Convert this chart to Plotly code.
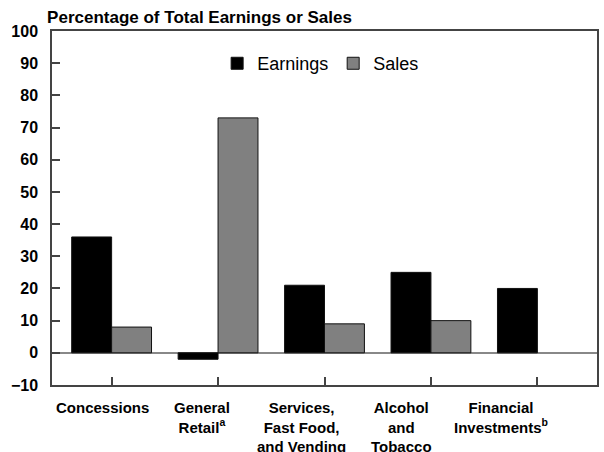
import plotly.graph_objects as go

categories = ["Concessions", "General Retail", "Services, Fast Food, and Vending",
              "Alcohol and Tobacco", "Financial Investments"]
tick_labels = [
    "Concessions",
    "General<br>Retail<sup>a</sup>",
    "Services,<br>Fast Food,<br>and Vending",
    "Alcohol<br>and<br>Tobacco",
    "Financial<br>Investments<sup>b</sup>",
]
earnings = [36, -2, 21, 25, 20]
sales = [8, 73, 9, 10, None]
y_ticks = list(range(-10, 101, 10))

FONT = "Liberation Sans, Arial, sans-serif"
AX = "#444444"

xs = list(range(len(categories)))

fig = go.Figure()
fig.add_trace(go.Bar(x=xs, y=earnings, name="Earnings",
                     marker=dict(color="#000000", line=dict(color="#111111", width=1))))
fig.add_trace(go.Bar(x=xs, y=sales, name="Sales",
                     marker=dict(color="#808080", line=dict(color="#111111", width=1))))

# category labels (placed slightly left of the tick marks, as in the original)
ann = []
for i, t in enumerate(tick_labels):
    ann.append(dict(x=0.092 + i * 0.1828, xref="paper", y=-0.033, yref="paper",
                    xanchor="center", yanchor="top", align="center",
                    text="<b>" + t + "</b>", showarrow=False,
                    font=dict(family=FONT, size=15, color="#000000")))

fig.update_layout(
    width=604, height=452,
    margin=dict(l=52, r=7, t=31, b=67, autoexpand=False),
    paper_bgcolor="white", plot_bgcolor="white",
    barmode="group", bargap=0.25, bargroupgap=0,
    title=dict(text="<b>Percentage of Total Earnings or Sales</b>",
               x=0.078, xanchor="left", y=0.975, yanchor="top",
               font=dict(family=FONT, size=17, color="#000000")),
    legend=dict(orientation="h", x=0.303, xanchor="left", y=0.908, yanchor="middle",
                font=dict(family=FONT, size=18, color="#000000"),
                bgcolor="rgba(0,0,0,0)", itemwidth=30),
    annotations=ann,
    showlegend=True,
)
fig.update_xaxes(range=[-0.56, 4.56], tickvals=xs, showticklabels=False,
                 ticks="inside", ticklen=8, tickcolor=AX, tickwidth=1.5,
                 showline=True, linecolor=AX, linewidth=1.5, mirror=True,
                 showgrid=False, zeroline=False, automargin=False)
fig.update_yaxes(range=[-10, 100], tickvals=y_ticks, ticks="inside", ticklen=8,
                 tickcolor=AX, tickwidth=1.5, showline=True, linecolor=AX,
                 linewidth=1.5, mirror=True, showgrid=False, automargin=False,
                 zeroline=True, zerolinecolor="#888888", zerolinewidth=1.5,
                 ticklabelstandoff=9,
                 tickfont=dict(family=FONT, size=16, color="#000000", weight="bold"))

fig.write_html("out.html", config={"displayModeBar": False},
               post_script="document.body.style.margin='0px';")
